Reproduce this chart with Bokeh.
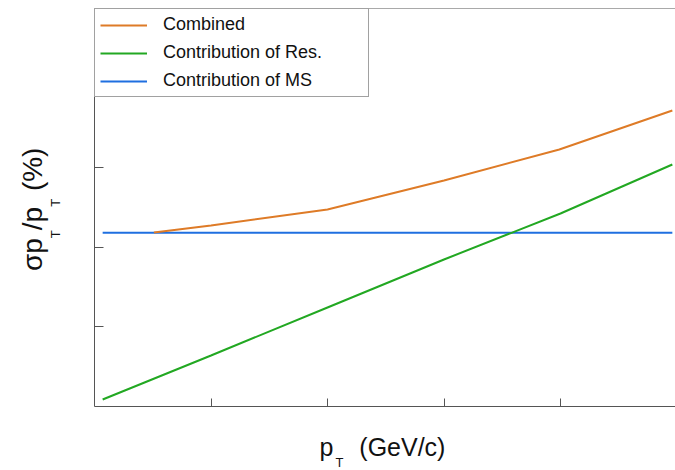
from bokeh.plotting import figure
from bokeh.models import Range1d, FixedTicker, Legend, LegendItem, Span, Div
from bokeh.layouts import row, column
from bokeh.embed import file_html
from bokeh.resources import INLINE

# ---- data (x: pT in units of the x tick spacing, y: resolution in units of the y tick spacing)
pt_combined = [0.51, 1.0, 2.0, 3.0, 3.99, 4.96]
res_combined = [2.186, 2.274, 2.475, 2.839, 3.229, 3.719]

pt_res = [0.07, 1.0, 2.0, 3.0, 4.0, 4.96]
res_res = [0.088, 0.641, 1.244, 1.847, 2.425, 3.040]

pt_ms = [0.07, 4.96]
res_ms = [2.182, 2.182]

x_ticks = [1, 2, 3, 4]
y_ticks = [1, 2, 3, 4]

series_labels = ["Combined", "Contribution of Res.", "Contribution of MS"]

# ---- layout
W, H = 675, 470
YL_W = 70            # width of the y-title strip
PH = 412             # height of the plot canvas
FL, FR, FT, FB = 94, 675, 8, 406
XMAX = (FR - FL) / 116.5
YMAX = 5.0

p = figure(width=W - YL_W, height=PH, output_backend="svg", toolbar_location=None,
           x_range=Range1d(0, XMAX), y_range=Range1d(0, YMAX),
           min_border_left=FL - YL_W, min_border_right=W - FR, min_border_top=FT,
           min_border_bottom=PH - FB)
p.outline_line_color = None
p.grid.visible = False
p.background_fill_color = "white"
p.border_fill_color = "white"

AXC = "#555555"
p.xaxis.ticker = FixedTicker(ticks=x_ticks)
p.yaxis.ticker = FixedTicker(ticks=y_ticks)
for ax, tin in ((p.xaxis[0], 8), (p.yaxis[0], 9)):
    ax.major_label_text_font_size = "0px"
    ax.major_label_standoff = 0
    ax.major_tick_in = tin
    ax.major_tick_out = 0
    ax.minor_tick_in = 0
    ax.minor_tick_out = 0
    ax.minor_tick_line_color = None
    ax.axis_line_color = AXC
    ax.major_tick_line_color = AXC
    ax.axis_line_width = 1

p.add_layout(Span(location=YMAX, dimension="width", line_color=AXC, line_width=1))

r_ms = p.line(pt_ms, res_ms, line_color="#1F6FE0", line_width=2)
r_res = p.line(pt_res, res_res, line_color="#22A822", line_width=2)
r_comb = p.line(pt_combined, res_combined, line_color="#DE7B27", line_width=2)

legend = Legend(items=[LegendItem(label=series_labels[0], renderers=[r_comb]),
                       LegendItem(label=series_labels[1], renderers=[r_res]),
                       LegendItem(label=series_labels[2], renderers=[r_ms])],
                location="top_left", margin=0, padding=5, spacing=7,
                glyph_width=47, glyph_height=20, label_standoff=16,
                label_width=200, label_height=20,
                label_text_font="Liberation Sans", label_text_font_size="18px",
                label_text_color="#111111",
                border_line_color="#444444", border_line_width=1,
                background_fill_color="white", background_fill_alpha=1.0)
p.add_layout(legend)

FONT_CSS = "'Liberation Sans', Arial, Helvetica, sans-serif"

# y title: σp_T/p_T (%) written upward
sub_y = "font-size:13px;line-height:1;position:relative;top:18px;"
ytitle_html = (
    f'<div style="position:relative;width:{YL_W}px;height:{PH}px;'
    f'font-family:{FONT_CSS};color:#111111;">'
    '<span style="position:absolute;left:16.6px;top:271px;transform-origin:0 0;'
    'transform:rotate(-90deg);font-size:28px;line-height:31px;white-space:nowrap;">'
    f'σp<span style="{sub_y}">T</span>/p<span style="{sub_y}">T</span> (%)</span></div>'
)

# x title: p_T (GeV/c)
sub_x = "font-size:13px;line-height:1;position:relative;top:11.5px;margin-left:2px;margin-right:9px;"
xtitle_html = (
    f'<div style="position:relative;width:{W}px;height:{H - PH}px;'
    f'font-family:{FONT_CSS};color:#111111;">'
    '<span style="position:absolute;left:319.5px;top:20.8px;font-size:25px;'
    'line-height:28px;white-space:nowrap;">'
    f'p<span style="{sub_x}">T</span> (GeV/c)</span></div>'
)

div_y = Div(text=ytitle_html, width=YL_W, height=PH, margin=0)
div_x = Div(text=xtitle_html, width=W, height=H - PH, margin=0)

layout = column(row(div_y, p, spacing=0), div_x, spacing=0)

open("out.html", "w").write(file_html(layout, INLINE))
